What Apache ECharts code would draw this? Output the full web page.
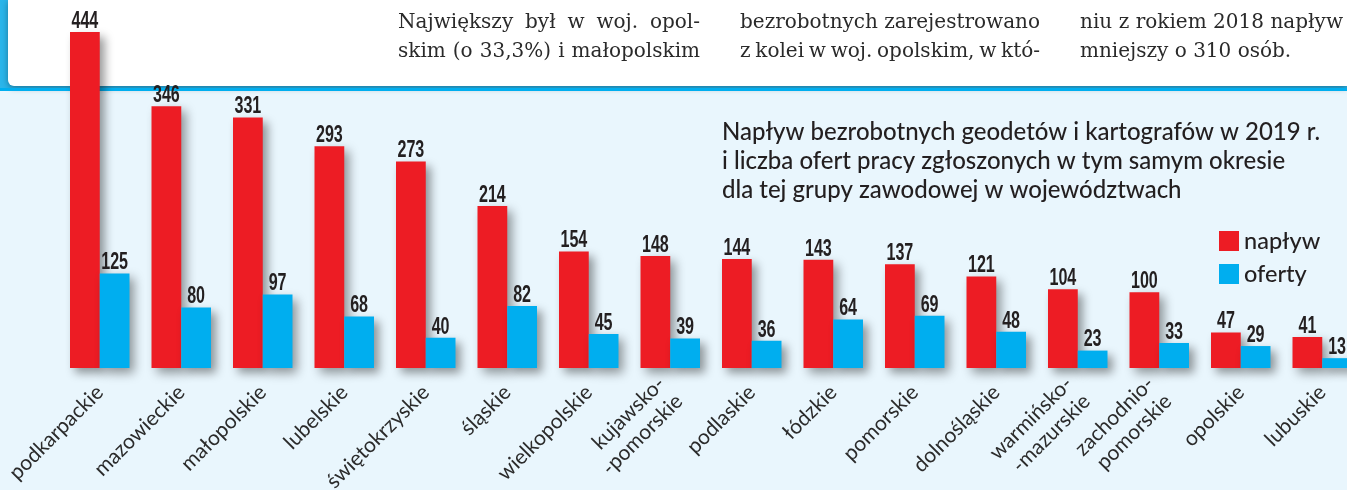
<!DOCTYPE html>
<html><head><meta charset="utf-8">
<script src="https://cdn.jsdelivr.net/npm/echarts@6/dist/echarts.min.js"></script>
<style>html,body{margin:0;padding:0;background:#e9f6fd}#c{width:1347px;height:490px}</style>
</head><body><div id="c"></div>
<script>
const categories = ['podkarpackie','mazowieckie','małopolskie','lubelskie','świętokrzyskie','śląskie','wielkopolskie','kujawsko-\n-pomorskie','podlaskie','łódzkie','pomorskie','dolnośląskie','warmińsko-\n-mazurskie','zachodnio-\npomorskie','opolskie','lubuskie'];
const naplyw = [444,346,331,293,273,214,154,148,144,143,137,121,104,100,47,41];
const oferty = [125,80,97,68,40,82,45,39,36,64,69,48,23,33,29,13];
const seriesNames = ['napływ','oferty'];
const titleLines = ['Napływ bezrobotnych geodetów i kartografów w 2019 r.','i liczba ofert pracy zgłoszonych w tym samym okresie','dla tej grupy zawodowej w województwach'];
const articleCols = [
  ['Największy był w woj. opol-','skim (o 33,3%) i małopolskim'],
  ['bezrobotnych zarejestrowano','z kolei w woj. opolskim, w któ-'],
  ['niu z rokiem 2018 napływ','mniejszy o 310 osób.']
];

const RED = '#ed1c24', BLUE = '#00aeef', INK = '#231f20';
const sansFont = 'Lato, "Noto Sans", sans-serif';
const serifFont = '20px "DejaVu Serif", "Liberation Serif", serif';
const numFont = 'bold 23px "Liberation Sans", Arial, sans-serif';

const mctx = document.createElement('canvas').getContext('2d');
mctx.font = serifFont;

const graphics = [];
graphics.push({type:'rect', shape:{x:0,y:0,width:1347,height:90}, style:{fill:'#2bb5ea'}, z:-20});
graphics.push({type:'rect', shape:{x:8,y:0,width:1339,height:86,r:[0,0,0,6]}, style:{fill:'#ffffff', shadowBlur:6, shadowOffsetY:2, shadowColor:'rgba(0,0,0,0.35)'}, z:-19});
graphics.push({type:'rect', shape:{x:0,y:88,width:1347,height:3}, style:{fill:'#00aeef'}, z:-18});
const colX = [398, 740, 1080];
const colW = [302, 300, 263];
articleCols.forEach((col, ci) => {
  col.forEach((line, li) => {
    const y = 33 + li*29;
    const justify = !(ci === 2 && li === col.length - 1);
    if (!justify) {
      graphics.push({type:'text', x: colX[ci], y: y, z:-10,
        style:{text: line, fill:'#2a2a2a', font: serifFont, verticalAlign:'bottom'}});
      return;
    }
    const words = line.split(' ');
    const widths = words.map(w => mctx.measureText(w).width);
    const total = widths.reduce((a,b)=>a+b,0);
    const gap = (colW[ci] - total) / (words.length - 1);
    let x = colX[ci];
    words.forEach((w, wi) => {
      graphics.push({type:'text', x: x, y: y, z:-10,
        style:{text: w, fill:'#2a2a2a', font: serifFont, verticalAlign:'bottom'}});
      x += widths[wi] + gap;
    });
  });
});
titleLines.forEach((t, i) => {
  graphics.push({type:'text', x: 722, y: 132 + i*29, z:-10,
    style:{text: t, fill: INK, font: '500 24px ' + sansFont, verticalAlign:'middle'}});
});

const CAT_GAP = 0.27;
function labelRenderer(side) {
  return function (params, api) {
    const idx = api.value(0), val = api.value(1);
    const p = api.coord([idx, val]);
    const cw = api.size([1, 0])[0];
    const bw = cw * (1 - CAT_GAP) / 2;
    const cx = p[0] + side * bw / 2;
    return {type:'text', x: cx, y: p[1] + 1, scaleX: 0.7,
      style:{text: String(val), align:'center', verticalAlign:'bottom', font: numFont, fill: INK}};
  };
}

const chart = echarts.init(document.getElementById('c'), null, {renderer:'canvas'});
const shadow = {shadowBlur:10, shadowOffsetX:5, shadowOffsetY:5, shadowColor:'rgba(0,0,0,0.4)'};
chart.setOption({
  backgroundColor:'#e9f6fd',
  animation:false,
  graphic: graphics,
  legend:{
    data: seriesNames, orient:'vertical', left:1214, top:224, itemWidth:20, itemHeight:20, itemGap:9,
    icon:'rect', textStyle:{color:INK, fontFamily:sansFont, fontSize:23.5, fontWeight:500}, itemStyle:{shadowBlur:0}
  },
  grid:{left:59, right:-16, top:32, bottom:122, outerBoundsMode:'none'},
  xAxis:{type:'category', data:categories, axisLine:{show:false}, axisTick:{show:false},
    axisLabel:{interval:0, rotate:45, margin:21, color:'#2b2b2b', fontFamily:sansFont, fontSize:21, lineHeight:25}},
  yAxis:{type:'value', min:0, max:444, show:false, splitLine:{show:false}},
  series:[
    {name:seriesNames[0], type:'bar', data:naplyw, barGap:'0%', barCategoryGap:(CAT_GAP*100)+'%', itemStyle:Object.assign({color:RED}, shadow)},
    {name:seriesNames[1], type:'bar', data:oferty, barGap:'0%', barCategoryGap:(CAT_GAP*100)+'%', itemStyle:Object.assign({color:BLUE}, shadow)},
    {type:'custom', name:'naplyw-labels', data: naplyw.map((v,i)=>[i,v]), encode:{x:0,y:1}, renderItem: labelRenderer(-1), z:5, clip:false, silent:true},
    {type:'custom', name:'oferty-labels', data: oferty.map((v,i)=>[i,v]), encode:{x:0,y:1}, renderItem: labelRenderer(1), z:5, clip:false, silent:true}
  ]
});
</script></body></html>
